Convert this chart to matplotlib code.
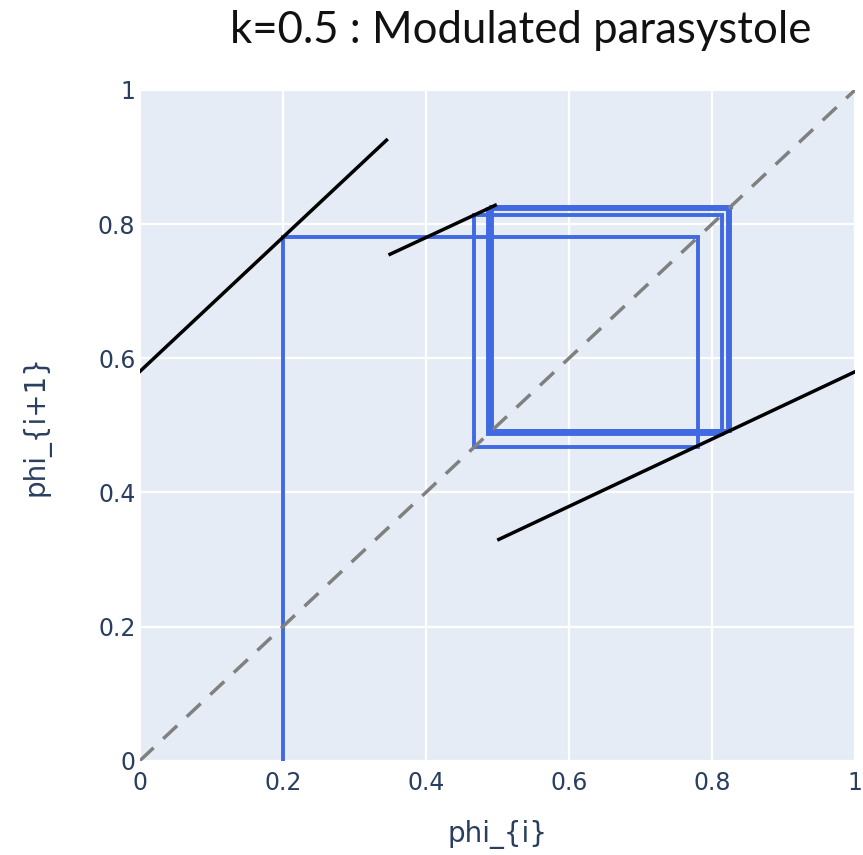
import matplotlib
matplotlib.use("Agg")
import matplotlib.pyplot as plt

# return map branches (phi_i -> phi_{i+1})
branch1_phi = [0.0, 0.345]
branch1_next = [0.58, 0.925]
branch2_phi = [0.35, 0.497]
branch2_next = [0.755, 0.828]
branch3_phi = [0.502, 1.0]
branch3_next = [0.33, 0.58]

# iterates of the cobweb, starting from phi_0 = 0.2
cobweb_phi = [0.2, 0.78, 0.468, 0.814, 0.487, 0.822, 0.491, 0.825, 0.492, 0.826]

ticks = [0, 0.2, 0.4, 0.6, 0.8, 1]
tick_labels = ["0", "0.2", "0.4", "0.6", "0.8", "1"]

# staircase path: up to the map, across to the diagonal, and so on
cx = [cobweb_phi[0]]
cy = [0.0]
for a, b in zip(cobweb_phi[:-1], cobweb_phi[1:]):
    cx += [a, b]
    cy += [b, b]

fig = plt.figure(figsize=(8.63, 8.55), dpi=100)
ax = fig.add_axes([0.1618, 0.1101, 0.8291, 0.7848])
ax.set_facecolor("#E5ECF6")

ax.plot(cx, cy, color="#4169E1", lw=2.8, zorder=2, solid_joinstyle="miter")
ax.plot(branch1_phi, branch1_next, color="black", lw=2.5, zorder=3)
ax.plot(branch2_phi, branch2_next, color="black", lw=2.5, zorder=3)
ax.plot(branch3_phi, branch3_next, color="black", lw=2.5, zorder=3)
ax.plot([0, 1], [0, 1], color="gray", lw=2.5, dashes=(5.5, 3.8), zorder=4)

ax.set_xlim(0, 1)
ax.set_ylim(0, 1)
ax.set_xticks(ticks)
ax.set_xticklabels(tick_labels)
ax.set_yticks(ticks)
ax.set_yticklabels(tick_labels)
ax.grid(True, color="white", lw=1.6)
ax.set_axisbelow(True)
for s in ax.spines.values():
    s.set_visible(False)
ax.tick_params(length=0, labelsize=17, labelcolor="#2a3f5f")
ax.tick_params(axis="x", pad=7)
ax.tick_params(axis="y", pad=3)

ax.set_xlabel("phi_{i}", fontsize=20, color="#2a3f5f", labelpad=18)
ax.set_ylabel("phi_{i+1}", fontsize=20, color="#2a3f5f", labelpad=34)

fig.text(230 / 863, 1 - 43 / 855, "k=0.5 : Modulated parasystole",
         fontsize=31.5, family="Lato", color="#111111",
         ha="left", va="baseline")

fig.savefig("out.png", dpi=100)
